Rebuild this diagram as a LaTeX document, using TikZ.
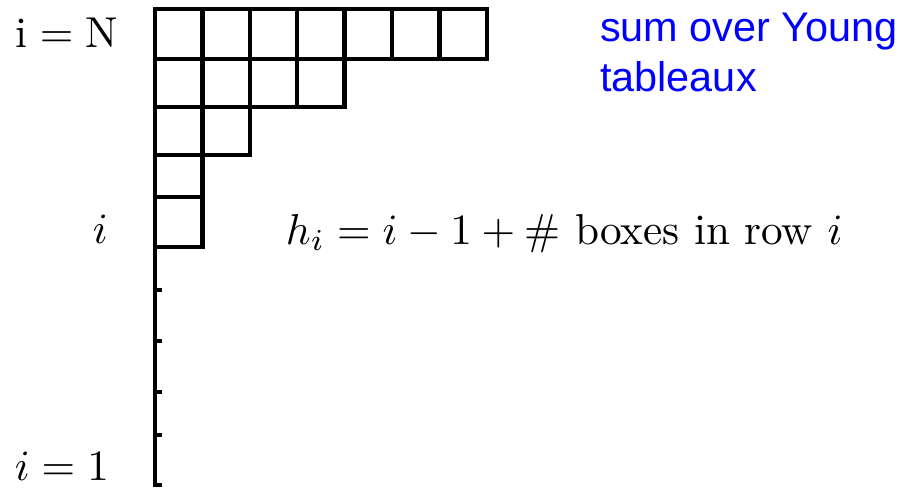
\documentclass[tikz,border=0pt]{standalone}
\usepackage{fontspec}
\newfontfamily\bluefont{Liberation Sans}
\begin{document}
\begin{tikzpicture}[x=1pt,y=-1pt,
  yline/.style={line width=4.5pt,black,line cap=rect},
  tick/.style={line width=4.5pt,black},
  mathlbl/.style={anchor=base west,inner sep=0pt,scale=4.32,font=\fontsize{10}{12}\selectfont},
  bluelbl/.style={anchor=base west,inner sep=0pt,text=blue,align=left,font=\bluefont\fontsize{41.4}{50}\selectfont}]
\useasboundingbox (0,0) rectangle (907,487);
\def\cw{47.4}
% row 1: 7 boxes
\foreach \k in {0,...,6} \draw[yline] ({155+\k*\cw},9) rectangle ({155+(\k+1)*\cw},59);
% row 2: 4 boxes
\foreach \k in {0,...,3} \draw[yline] ({155+\k*\cw},59) rectangle ({155+(\k+1)*\cw},107);
% row 3: 2 boxes
\foreach \k in {0,...,1} \draw[yline] ({155+\k*\cw},107) rectangle ({155+(\k+1)*\cw},155);
% rows 4 and 5: 1 box
\draw[yline] (155,155) rectangle ({155+\cw},197);
\draw[yline] (155,197) rectangle ({155+\cw},247);
% axis line with ticks
\draw[yline] (155,247) -- (155,485);
\foreach \t in {290,341,392,435,485} \draw[tick] (155,\t) -- (162,\t);
% labels
\node[mathlbl] (lN) at (15,48) {$\mathrm{i}=\mathrm{N}$};
\node[mathlbl] (li) at (92,243) {$i$};
\node[mathlbl] (l1) at (14,480) {$i=1$};
\node[mathlbl] (hi) at (285,244) {$h_i=i-1+\#\ \mbox{boxes in row }i$};
\node[bluelbl] (blue) at (600,92) {sum over Young\\tableaux};
\end{tikzpicture}
\end{document}
